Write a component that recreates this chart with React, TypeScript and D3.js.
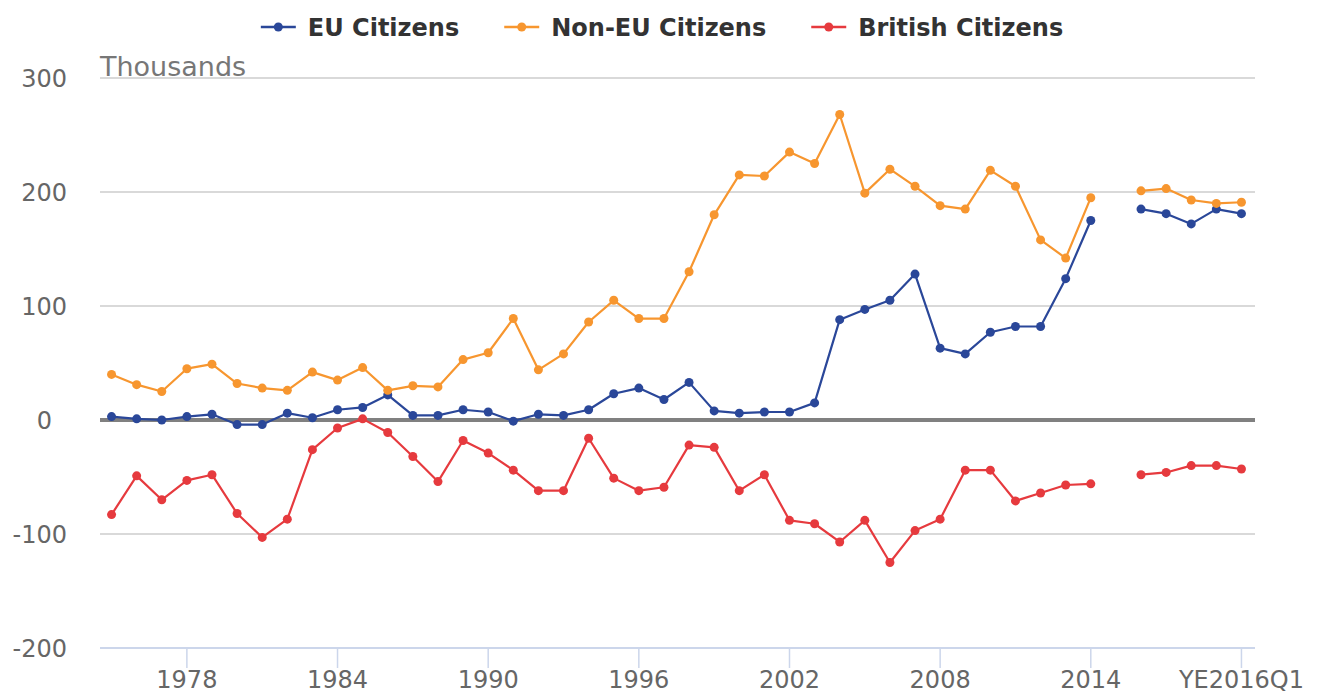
import React, { useRef, useEffect } from 'react';
import * as d3 from 'd3';

// categories: 1975..2014, one empty slot, then year-ending quarters
const years = d3.range(1975, 2015).map(String);
const quarters = ['', 'YE2015Q1', 'YE2015Q2', 'YE2015Q3', 'YE2015Q4', 'YE2016Q1'];
const categories = [...years, ...quarters];

const tickLabels = ['1978', '1984', '1990', '1996', '2002', '2008', '2014', 'YE2016Q1'];
const yTicks = [300, 200, 100, 0, -100, -200];

const euCitizens = [
  3, 1, 0, 3, 5, -4, -4, 6, 2, 9,
  11, 22, 4, 4, 9, 7, -1, 5, 4, 9,
  23, 28, 18, 33, 8, 6, 7, 7, 15, 88,
  97, 105, 128, 63, 58, 77, 82, 82, 124, 175,
  null, 185, 181, 172, 185, 181,
];

const nonEuCitizens = [
  40, 31, 25, 45, 49, 32, 28, 26, 42, 35,
  46, 26, 30, 29, 53, 59, 89, 44, 58, 86,
  105, 89, 89, 130, 180, 215, 214, 235, 225, 268,
  199, 220, 205, 188, 185, 219, 205, 158, 142, 195,
  null, 201, 203, 193, 190, 191,
];

const britishCitizens = [
  -83, -49, -70, -53, -48, -82, -103, -87, -26, -7,
  1, -11, -32, -54, -18, -29, -44, -62, -62, -16,
  -51, -62, -59, -22, -24, -62, -48, -88, -91, -107,
  -88, -125, -97, -87, -44, -44, -71, -64, -57, -56,
  null, -48, -46, -40, -40, -43,
];

const series = [
  { name: 'EU Citizens', color: '#2a4799', values: euCitizens },
  { name: 'Non-EU Citizens', color: '#f7962f', values: nonEuCitizens },
  { name: 'British Citizens', color: '#e63a3e', values: britishCitizens },
];

const W = 1319;
const H = 693;
const FONT = '"DejaVu Sans", Verdana, sans-serif';

const App = () => {
  const svgRef = useRef<SVGSVGElement>(null);

  useEffect(() => {
    const svg = d3.select(svgRef.current);
    svg.selectAll('*').remove();

    const plot = { left: 99, right: 1254, top: 78, bottom: 648 };

    const x = d3.scaleBand()
      .domain(categories.map((c, i) => `${i}`))
      .range([plot.left, plot.right]);
    const cx = (i: number) => x(`${i}`)! + x.bandwidth() / 2;

    const y = d3.scaleLinear()
      .domain([-200, 300])
      .range([plot.bottom, plot.top]);

    // gridlines
    svg.append('g')
      .selectAll('line')
      .data(yTicks.filter(t => t !== 0 && t !== -200))
      .join('line')
      .attr('x1', plot.left + 1)
      .attr('x2', plot.right + 1)
      .attr('y1', d => y(d))
      .attr('y2', d => y(d))
      .attr('stroke', '#d9d9d9')
      .attr('stroke-width', 2);

    // x axis line and ticks
    svg.append('line')
      .attr('x1', plot.left + 1).attr('x2', plot.right + 1)
      .attr('y1', y(-200)).attr('y2', y(-200))
      .attr('stroke', '#ccd6eb').attr('stroke-width', 2);

    const tickIdx = tickLabels.map(t => categories.indexOf(t));
    svg.append('g')
      .selectAll('line')
      .data(tickIdx)
      .join('line')
      .attr('x1', d => cx(d)).attr('x2', d => cx(d))
      .attr('y1', y(-200)).attr('y2', y(-200) + 20)
      .attr('stroke', '#ccd6eb').attr('stroke-width', 1.5);

    svg.append('g')
      .selectAll('text')
      .data(tickIdx)
      .join('text')
      .attr('x', d => cx(d))
      .attr('y', 688)
      .attr('text-anchor', 'middle')
      .attr('font-family', FONT)
      .attr('font-size', 24)
      .attr('fill', '#666666')
      .text(d => categories[d]);

    // y labels (the 0 label sits further left in the original)
    svg.append('g')
      .selectAll('text')
      .data(yTicks)
      .join('text')
      .attr('x', d => (d === 0 ? 52 : 67))
      .attr('y', d => y(d) + 9)
      .attr('text-anchor', 'end')
      .attr('font-family', FONT)
      .attr('font-size', 24)
      .attr('fill', '#666666')
      .text(d => d);

    svg.append('text')
      .attr('x', plot.left + 1)
      .attr('y', 76)
      .attr('font-family', FONT)
      .attr('font-size', 27)
      .attr('fill', '#777777')
      .text('Thousands');

    // zero line
    svg.append('line')
      .attr('x1', plot.left + 1).attr('x2', plot.right + 1)
      .attr('y1', y(0)).attr('y2', y(0))
      .attr('stroke', '#808080').attr('stroke-width', 4);

    // series
    const line = d3.line<number | null>()
      .defined(d => d != null)
      .x((d, i) => cx(i))
      .y(d => y(d as number));

    series.forEach(s => {
      const g = svg.append('g');
      g.append('path')
        .datum(s.values)
        .attr('fill', 'none')
        .attr('stroke', s.color)
        .attr('stroke-width', 2.2)
        .attr('stroke-linejoin', 'round')
        .attr('d', line);
      g.selectAll('circle')
        .data(s.values.map((v, i) => ({ v, i })).filter(d => d.v != null))
        .join('circle')
        .attr('cx', d => cx(d.i))
        .attr('cy', d => y(d.v as number))
        .attr('r', 4.5)
        .attr('fill', s.color);
    });

    // legend
    const legend = svg.append('g');
    const items = series.map(s => {
      const item = legend.append('g');
      item.append('line')
        .attr('x1', 0).attr('x2', 35)
        .attr('y1', 27).attr('y2', 27)
        .attr('stroke', s.color).attr('stroke-width', 2.5);
      item.append('circle')
        .attr('cx', 17.5).attr('cy', 27).attr('r', 4.5)
        .attr('fill', s.color);
      const t = item.append('text')
        .attr('x', 47)
        .attr('y', 35.5)
        .attr('font-family', FONT)
        .attr('font-size', 24)
        .attr('font-weight', 'bold')
        .attr('fill', '#333333')
        .text(s.name);
      const w = (t.node() as SVGTextElement).getComputedTextLength();
      return { item, width: 47 + w };
    });
    const gap = 45;
    const total = d3.sum(items, d => d.width) + gap * (items.length - 1);
    let pos = 662 - total / 2;
    items.forEach(d => {
      d.item.attr('transform', `translate(${pos},0)`);
      pos += d.width + gap;
    });
  }, []);

  return (
    <div style={{ position: 'fixed', left: 0, top: 0, background: '#fff' }}>
      <svg ref={svgRef} width={W} height={H} style={{ display: 'block' }} />
    </div>
  );
};

export default App;
